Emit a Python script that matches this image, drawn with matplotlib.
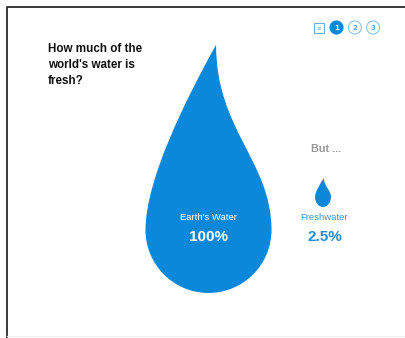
import numpy as np
import matplotlib.pyplot as plt
from matplotlib.path import Path
from matplotlib.patches import PathPatch, Circle, Rectangle

# chart content
labels = ["Earth's Water", "Freshwater"]
values = [100, 2.5]
value_text = ["100%", "2.5%"]
title = "How much of the\nworld's water is\nfresh?"
steps = ["1", "2", "3"]

BLUE = "#0c88db"

# drop layout in pixel units: centre of the round part, radius, tip height (in radii)
drop_cx = [208.5, 323.0]
drop_cy = [230.0, 197.0]
drop_r = [63.0, 8.0]
drop_ry = [63.0, 10.0]
drop_h = [2.94, 1.9]


def drop_path(cx, cy, rx, ry, h):
    k = 0.5523
    tx = 0.12
    pts = [(tx, -h),
           (tx, -0.54 * h), (1, -0.37 * h), (1, 0),
           (1, k), (k, 1), (0, 1),
           (-k, 1), (-1, k), (-1, 0),
           (-1, -0.27 * h), (-0.37, -0.70 * h), (tx, -h),
           (tx, -h)]
    codes = [Path.MOVETO] + [Path.CURVE4] * 12 + [Path.CLOSEPOLY]
    pts = [(cx + x * rx, cy + y * ry) for x, y in pts]
    return Path(pts, codes)


fig = plt.figure(figsize=(4.06, 3.38), dpi=100)
ax = fig.add_axes([0, 0, 1, 1])
ax.set_xlim(0, 406)
ax.set_ylim(338, 0)
ax.axis('off')

# frame
ax.plot([7, 7, 406], [338, 7, 7], color='#2b2b2b', lw=1.3)
ax.plot([7, 406], [335.5, 335.5], color='#eeeeee', lw=0.8)

for i in range(len(values)):
    ax.add_patch(PathPatch(drop_path(drop_cx[i], drop_cy[i], drop_r[i], drop_ry[i], drop_h[i]),
                           facecolor=BLUE, edgecolor='none'))

ax.text(48, 43, title, fontsize=8.4, fontweight='bold', family='Liberation Sans',
        va='top', ha='left', color='#111111', linespacing=1.42)

# labels
ax.text(drop_cx[0], 218, labels[0], color='white', fontsize=6.8, ha='center', va='center',
        family='Liberation Sans')
ax.text(drop_cx[0], 237, value_text[0], color='white', fontsize=11, fontweight='bold',
        ha='center', va='center', family='Liberation Sans')
ax.text(drop_cx[1] + 1, 218, labels[1], color='#3994d6', fontsize=6.8, ha='center', va='center',
        family='Liberation Sans')
ax.text(drop_cx[1] + 1.5, 237, value_text[1], color='#2a8ad6', fontsize=11, fontweight='bold',
        ha='center', va='center', family='Liberation Sans')
ax.text(326, 149, "But ...", color='#9a9a9a', fontsize=7.8, fontweight='bold',
        ha='center', va='center', family='Liberation Sans')

# step buttons
ax.add_patch(Rectangle((314, 22.5), 10, 10, facecolor='none', edgecolor='#6aaee0', lw=0.8))
ax.text(319, 27.5, "\u2261", color='#6aaee0', fontsize=4, ha='center', va='center')
for j, s in enumerate(steps):
    x = 336.5 + j * 18.3
    if j == 0:
        ax.add_patch(Circle((x, 27.5), 6.5, facecolor=BLUE, edgecolor=BLUE, lw=0.8))
        c = 'white'
    else:
        ax.add_patch(Circle((x, 27.5), 6.5, facecolor='white', edgecolor='#8cc2ea', lw=0.8))
        c = '#5aa5de'
    ax.text(x, 27.8, s, color=c, fontsize=5, fontweight='bold', ha='center', va='center')

fig.savefig('out.png', dpi=100)
